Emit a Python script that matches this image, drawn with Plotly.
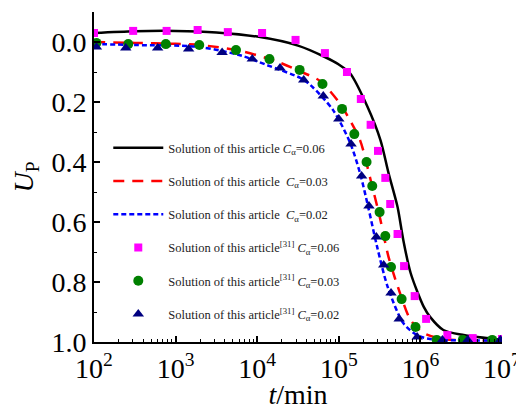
import plotly.graph_objects as go

# ---- data (t in minutes, U_P) ----
line06_t = [100, 316, 1000, 3162, 10000, 31623, 67600, 100000, 138000, 224000, 324000,
            407000, 525000, 617000, 759000, 1.10e6, 1.32e6, 1.91e6, 3.39e6, 1e7]
line06_u = [-0.030, -0.036, -0.037, -0.032, -0.018, 0.012, 0.050, 0.075, 0.105, 0.215, 0.327,
            0.437, 0.550, 0.660, 0.770, 0.883, 0.917, 0.960, 0.977, 0.993]

line03_t = [100, 316, 1000, 1995, 6310, 17380, 31620, 58880, 100000, 125900, 182000,
            245500, 323600, 407400, 562300, 758600, 1.096e6, 1.905e6, 1e7]
line03_u = [0.000, 0.003, 0.006, 0.010, 0.030, 0.065, 0.095, 0.130, 0.200, 0.243, 0.327,
            0.460, 0.593, 0.717, 0.837, 0.927, 0.970, 0.990, 0.995]

line02_t = [100, 316, 1862, 6310, 13180, 33880, 44670, 85110, 138000, 182000, 229100,
            295100, 398100, 616600, 912000, 1.318e6, 1e7]
line02_u = [0.007, 0.010, 0.016, 0.045, 0.077, 0.120, 0.143, 0.227, 0.337, 0.437, 0.550,
            0.683, 0.817, 0.937, 0.977, 0.990, 0.995]

ref06_t = [100, 302, 776, 1862, 4365, 11480, 29510, 67600, 125900, 186200, 245500,
           302000, 371500, 426600, 524800, 631000, 851000, 1.175e6, 2.14e6, 4.37e6, 1e7]
ref06_u = [-0.030, -0.037, -0.037, -0.040, -0.033, -0.030, -0.007, 0.037, 0.100, 0.190, 0.276,
           0.363, 0.453, 0.540, 0.640, 0.747, 0.847, 0.923, 0.977, 0.987, 0.990]

ref03_t = [107, 263, 759, 1950, 5495, 14125, 33110, 63100, 109600, 154900, 218800,
           257000, 316200, 371500, 436500, 588800, 871000, 1.585e6, 3.31e6, 7.59e6]
ref03_u = [0.003, 0.007, 0.007, 0.010, 0.027, 0.057, 0.093, 0.140, 0.223, 0.307, 0.400,
           0.480, 0.567, 0.647, 0.750, 0.857, 0.950, 0.993, 0.993, 0.993]

ref02_t = [107, 245, 603, 1445, 3715, 8710, 19050, 37150, 64570, 100000, 141300,
           190500, 234400, 288400, 354800, 436500, 549500, 912000, 1.862e6, 3.80e6, 9.55e6]
ref02_u = [0.017, 0.020, 0.020, 0.023, 0.035, 0.057, 0.087, 0.127, 0.180, 0.257, 0.340,
           0.447, 0.547, 0.650, 0.743, 0.837, 0.923, 0.983, 0.993, 0.993, 0.993]

x_tick_vals = [1e2, 1e3, 1e4, 1e5, 1e6, 1e7]
x_tick_text = ["10<sup>2</sup>", "10<sup>3</sup>", "10<sup>4</sup>",
               "10<sup>5</sup>", "10<sup>6</sup>", "10<sup>7</sup>"]
y_tick_vals = [0.0, 0.2, 0.4, 0.6, 0.8, 1.0]
y_tick_text = ["0.0", "0.2", "0.4", "0.6", "0.8", "1.0"]

names = [
    "Solution of this article <i>C</i><sub>α</sub>=0.06",
    "Solution of this article  <i>C</i><sub>α</sub>=0.03",
    "Solution of this article  <i>C</i><sub>α</sub>=0.02",
    "Solution of this article<sup>[31]</sup> <i>C</i><sub>α</sub>=0.06",
    "Solution of this article<sup>[31]</sup> <i>C</i><sub>α</sub>=0.03",
    "Solution of this article<sup>[31]</sup> <i>C</i><sub>α</sub>=0.02",
]

FONT = "Liberation Serif"

fig = go.Figure()
fig.add_trace(go.Scatter(x=line06_t, y=line06_u, mode="lines", name=names[0],
                         line=dict(color="black", width=2.5, shape="spline", smoothing=0.8),
                         legendgroup="a"))
fig.add_trace(go.Scatter(x=line03_t, y=line03_u, mode="lines", name=names[1],
                         line=dict(color="#FF0000", width=2.5, dash="11px,8px", shape="spline", smoothing=0.8),
                         legendgroup="b"))
fig.add_trace(go.Scatter(x=line02_t, y=line02_u, mode="lines", name=names[2],
                         line=dict(color="#0000FF", width=2.5, dash="5px,3px", shape="spline", smoothing=0.8),
                         legendgroup="c"))
fig.add_trace(go.Scatter(x=ref06_t, y=ref06_u, mode="markers", name=names[3],
                         marker=dict(symbol="square", size=8, color="#FF00FF"),
                         legendgroup="d"))
fig.add_trace(go.Scatter(x=ref03_t, y=ref03_u, mode="markers", name=names[4],
                         marker=dict(symbol="circle", size=10, color="#008000"),
                         legendgroup="e"))
fig.add_trace(go.Scatter(x=ref02_t, y=ref02_u, mode="markers", name=names[5],
                         marker=dict(symbol="triangle-up", size=10, color="#000080"),
                         legendgroup="f"))

minor_x = [m * 10 ** e for e in range(2, 7) for m in range(2, 10)]

# the page body adds an 8px offset; the figure size/margins compensate for it
fig.update_layout(
    width=516, height=402,
    margin=dict(l=86, r=22, t=4, b=68),
    paper_bgcolor="white", plot_bgcolor="white",
    font=dict(family=FONT, color="black"),
    legend=dict(x=0.035, y=0.633, xanchor="left", yanchor="top",
                bgcolor="rgba(0,0,0,0)", font=dict(size=12.5, family=FONT, color="#222222"),
                itemwidth=50, tracegroupgap=14, traceorder="grouped"),
    xaxis=dict(type="log", range=[2, 7], tickvals=x_tick_vals, ticktext=x_tick_text,
               ticks="inside", ticklen=6, tickwidth=1.5, tickcolor="black", automargin=False,
               showline=True, linecolor="black", linewidth=2, showgrid=False, zeroline=False,
               tickfont=dict(size=28, family=FONT),
               minor=dict(tickvals=minor_x, ticks="inside", ticklen=3, tickwidth=1.2,
                          tickcolor="black", showgrid=False),
               title=dict(text="<i>t</i>/min", font=dict(size=28, family=FONT), standoff=7)),
    yaxis=dict(range=[1.0, -0.1], tickvals=y_tick_vals, ticktext=y_tick_text,
               ticks="inside", ticklen=6, tickwidth=1.5, tickcolor="black", automargin=True,
               showline=True, linecolor="black", linewidth=2, showgrid=False, zeroline=False,
               tickfont=dict(size=28, family=FONT),
               minor=dict(tickvals=[-0.1, 0.1, 0.3, 0.5, 0.7, 0.9], ticks="inside", ticklen=3,
                          tickwidth=1.2, tickcolor="black", showgrid=False),
               title=dict(text="<i>U</i><sub>P</sub>", font=dict(size=28, family=FONT), standoff=17)),
)

fig.write_html("out.html")
